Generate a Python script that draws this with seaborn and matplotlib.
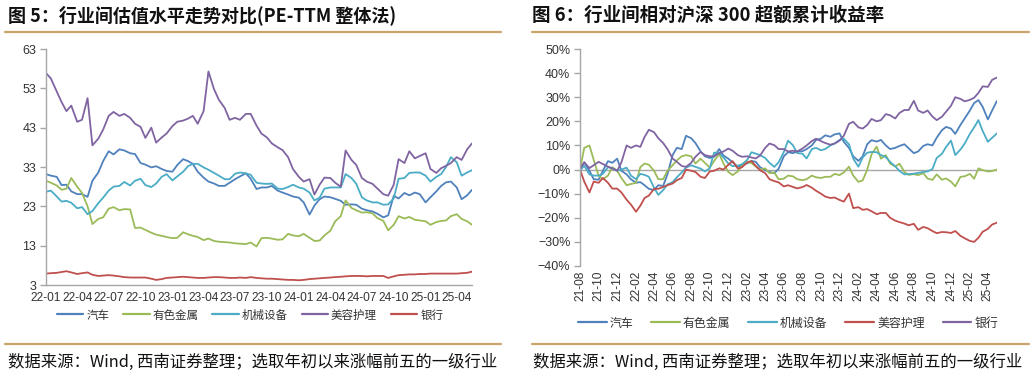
import numpy as np
import pandas as pd
import matplotlib
matplotlib.use("Agg")
import matplotlib.pyplot as plt
from matplotlib.lines import Line2D
import seaborn as sns

sns.set_theme(style="white")
plt.rcParams['font.family'] = ['Noto Sans CJK SC', 'DejaVu Sans']
plt.rcParams['axes.unicode_minus'] = True

industries = ["汽车", "有色金属", "机械设备", "美容护理", "银行"]

# ---------------- left panel: PE-TTM ----------------
pe_dates = pd.date_range("2022-01-01", periods=82, freq="SMS")
pe_auto = [31.2, 30.8, 30.5, 28.4, 28.5, 26.8, 26.1, 26.1, 25.4, 29.5,
           31.6, 34.5, 37.0, 36.2, 37.5, 37.2, 36.5, 36.3, 34.0, 33.6,
           32.9, 33.2, 32.5, 32.0, 31.8, 33.5, 35.0, 34.5, 33.8, 31.8,
           30.3, 29.3, 28.8, 28.2, 28.2, 29.0, 29.9, 30.6, 31.4, 30.0,
           27.4, 27.8, 27.8, 28.2, 27.0, 26.5, 26.0, 25.5, 25.2, 24.0,
           20.9, 23.2, 24.8, 25.5, 25.3, 24.9, 24.4, 23.4, 23.5, 23.4,
           22.4, 22.0, 21.7, 21.1, 20.2, 20.7, 25.7, 25.0, 26.4, 25.8,
           26.5, 26.1, 24.0, 25.3, 26.8, 28.2, 29.1, 29.3, 27.8, 24.8,
           25.8, 27.2]
pe_metal = [29.5, 29.0, 28.3, 27.2, 27.5, 30.2, 28.0, 26.4, 23.0, 18.5,
            19.8, 20.2, 22.4, 22.8, 22.0, 22.3, 22.2, 17.5, 17.6, 17.0,
            16.3, 15.8, 15.5, 15.2, 14.9, 15.0, 16.4, 15.9, 15.5, 15.2,
            14.4, 14.8, 14.2, 14.0, 13.9, 13.8, 13.6, 13.5, 13.4, 13.8,
            12.8, 14.9, 15.0, 14.8, 14.5, 14.6, 16.0, 15.6, 15.4, 16.0,
            15.0, 14.2, 14.3, 15.6, 16.8, 19.2, 20.5, 24.5, 22.6, 22.0,
            21.4, 21.5, 21.2, 20.0, 19.3, 16.9, 18.3, 20.5, 19.9, 20.3,
            19.6, 19.4, 19.2, 18.3, 19.0, 19.3, 19.4, 20.5, 21.0, 19.8,
            19.2, 18.3]
pe_machine = [26.7, 27.0, 25.5, 24.2, 24.4, 23.9, 22.5, 22.8, 21.0, 21.8,
              23.8, 25.2, 27.0, 28.0, 28.2, 29.2, 28.3, 29.5, 30.0, 28.4,
              27.9, 28.8, 30.5, 31.2, 29.6, 30.6, 31.8, 33.2, 33.8, 33.8,
              32.9, 32.3, 31.5, 30.8, 29.9, 29.9, 31.3, 31.6, 31.4, 31.0,
              29.0, 28.8, 28.7, 28.8, 27.5, 27.4, 27.9, 28.5, 27.8, 27.5,
              26.5, 24.5, 25.2, 27.5, 27.8, 27.8, 27.8, 31.2, 30.2, 28.7,
              25.3, 24.5, 24.0, 24.0, 23.4, 23.5, 25.0, 30.0, 30.2, 31.5,
              31.6, 31.6, 30.8, 29.3, 30.5, 31.2, 33.0, 35.5, 34.2, 30.8,
              31.6, 32.2]
pe_beauty = [56.9, 55.5, 52.2, 49.5, 47.2, 48.6, 44.5, 45.0, 50.5, 38.5,
             40.2, 42.5, 46.0, 47.0, 46.0, 46.5, 45.5, 44.0, 43.2, 40.4,
             43.0, 39.2, 40.5, 41.5, 43.4, 44.5, 44.8, 45.3, 46.0, 44.0,
             47.2, 57.3, 52.8, 50.1, 48.0, 45.0, 45.5, 45.0, 46.5, 46.5,
             43.5, 41.5, 40.5, 39.0, 38.0, 37.3, 35.5, 32.5, 30.5, 29.3,
             29.9, 26.0, 28.5, 30.3, 30.2, 29.0, 28.0, 37.2, 34.8, 33.5,
             30.2, 29.3, 28.7, 27.5, 26.1, 25.7, 28.5, 35.0, 34.0, 37.0,
             35.2, 35.8, 36.5, 32.5, 31.5, 32.7, 33.3, 34.0, 35.5, 34.8,
             37.5, 39.0]
pe_bank = [5.9, 6.0, 6.1, 6.3, 6.5, 6.2, 5.8, 6.0, 6.2, 5.6,
           5.3, 5.4, 5.5, 5.4, 5.2, 5.0, 4.9, 4.9, 4.9, 4.9,
           4.6, 4.3, 4.5, 4.8, 4.9, 5.0, 5.1, 5.0, 4.9, 4.8,
           4.8, 4.9, 5.0, 5.0, 4.9, 4.8, 4.8, 4.9, 4.8, 5.0,
           4.8, 4.7, 4.6, 4.6, 4.5, 4.4, 4.3, 4.3, 4.2, 4.3,
           4.5, 4.6, 4.7, 4.8, 4.9, 5.0, 5.1, 5.2, 5.3, 5.3,
           5.3, 5.2, 5.3, 5.3, 5.3, 4.8, 5.2, 5.5, 5.6, 5.7,
           5.7, 5.8, 5.8, 5.9, 5.9, 5.9, 5.9, 5.9, 5.9, 6.0,
           6.1, 6.4]
pe_yticks = [3, 13, 23, 33, 43, 53, 63]
pe_xticks = ["2022-01", "2022-04", "2022-07", "2022-10", "2023-01", "2023-04", "2023-07",
             "2023-10", "2024-01", "2024-04", "2024-07", "2024-10", "2025-01", "2025-04"]

# ---------------- right panel: excess return vs CSI 300 ----------------
ex_dates = pd.date_range("2021-08-01", periods=91, freq="SMS")
ex_auto = [-0.3, 3.0, -0.5, -4.0, -4.2, -0.5, 3.5, 2.8, 4.5, -0.5,
           -2.0, -4.0, -5.5, -5.2, -6.5, -8.0, -8.5, -6.5, -6.8, -2.0,
           6.0, 9.0, 8.5, 14.0, 13.0, 11.0, 7.5, 5.5, 4.8, 5.3,
           8.5, 5.8, 4.5, 3.0, 1.2, 1.8, 2.6, 3.6, 3.2, 1.0,
           -0.3, -1.0, -1.5, 0.3, 5.5, 7.2, 6.8, 7.5, 7.6, 8.5,
           10.0, 12.3, 12.8, 14.2, 13.6, 14.6, 15.0, 11.5, 9.0, 5.5,
           3.6, 5.5, 10.5, 12.2, 11.6, 12.3, 10.0, 8.5, 9.0, 9.8,
           10.5, 8.8, 6.8, 7.5, 9.8, 10.5, 10.0, 13.2, 16.3, 17.7,
           17.0, 14.8, 18.5, 21.2, 24.5, 27.6, 28.8, 26.0, 20.8, 24.5,
           28.5]
ex_metal = [0.0, 9.0, 10.0, 4.0, -2.5, -4.0, -2.5, 1.0, -0.5, -3.5,
            -6.5, -6.0, -5.5, 1.0, 2.5, 2.0, -0.5, -4.0, -4.0, -0.5,
            1.8, 3.8, 5.5, 6.0, 5.5, 2.5, 4.5, 2.8, 0.8, 3.5,
            6.5, 2.5, -1.0, -2.3, -0.8, 1.5, 3.0, 2.7, 1.3, 0.0,
            0.5, -1.5, -1.2, -4.0, -3.8, -2.5, -2.8, -4.0, -4.4, -4.0,
            -2.5, -3.2, -3.5, -3.0, -3.0, -1.8, -2.3, -1.2, 1.2, -2.5,
            -5.1, -4.5, 0.0, 6.3, 9.5, 4.5, 6.0, 2.5, 1.3, 2.4,
            -1.0, -2.2, -1.9, -2.3, -1.5, -3.7, -4.3, -2.0, -4.2, -3.7,
            -5.0, -7.0, -3.0, -2.8, -1.8, -3.8, 0.5, -0.2, -0.8, -0.6,
            0.0]
ex_machine = [-0.3, 1.5, -2.0, -2.5, -2.5, -1.8, 1.0, 0.5, -0.5, 0.0,
              0.8, -2.5, -4.0, -1.8, -2.2, -3.0, -7.5, -10.5, -8.5, -6.2,
              -5.2, -3.2, -1.2, 0.8, 1.8, 1.1, 0.4, -0.8, 0.5, 7.0,
              7.0, 5.0, 2.5, 1.4, 1.6, 2.2, 4.0, 7.2, 6.6, 6.0,
              4.8, 2.8, 1.1, 3.0, 7.2, 12.0, 10.1, 6.8, 6.6, 4.6,
              8.5, 9.0, 8.0, 8.5, 10.0, 10.8, 12.3, 12.8, 10.5, 4.5,
              1.2, 5.0, 7.0, 7.3, 7.2, 6.0, 5.2, 3.2, 1.3, -0.6,
              -2.0, -1.9, -1.7, -1.4, -1.0, -0.8, 0.2, 4.8, 6.5, 9.4,
              12.0, 6.0, 8.3, 10.8, 14.8, 17.5, 20.5, 16.0, 11.5, 13.2,
              15.0]
ex_beauty = [0.0, -5.0, -9.5, -5.0, -5.5, -3.5, -5.5, -7.9, -7.9, -9.5,
             -12.5, -14.5, -17.5, -15.0, -11.8, -10.8, -8.0, -8.0, -7.2, -6.5,
             -5.8, -4.4, -3.5, 0.0, -0.5, -1.0, -3.0, -3.5, -0.8, -0.5,
             0.5, 0.0, 2.0, 3.5, 0.4, 1.0, 3.0, 3.5, 1.5, -0.3,
             -1.5, -4.0, -4.8, -5.3, -7.0, -6.5, -7.2, -7.8, -7.3, -6.4,
             -7.5, -8.8, -10.0, -11.2, -11.8, -11.6, -12.6, -13.3, -10.0, -16.0,
             -15.6, -16.7, -16.4, -17.3, -18.5, -18.0, -18.0, -20.0, -21.2, -21.8,
             -22.4, -23.1, -22.5, -25.0, -23.8, -24.3, -25.5, -26.4, -25.9, -26.0,
             -26.3, -25.5, -27.5, -28.5, -29.6, -30.0, -28.3, -25.8, -24.6, -22.8,
             -22.0]
ex_bank = [0.4, 3.0, 0.6, 1.8, 3.2, 2.3, 1.2, 0.5, -0.5, 3.0,
           10.0, 9.0, 10.0, 9.4, 13.5, 16.5, 15.5, 13.0, 11.0, 8.5,
           4.6, 3.2, 1.5, 1.1, 2.8, 5.3, 7.3, 6.0, 5.5, 5.5,
           6.8, 7.5, 8.7, 7.8, 6.0, 5.3, 5.5, 5.0, 4.6, 5.8,
           9.0, 10.8, 10.1, 8.5, 8.5, 7.5, 7.8, 7.5, 8.7, 10.0,
           11.8, 12.8, 11.8, 11.0, 10.3, 10.8, 12.0, 14.0, 19.0, 19.8,
           17.5, 17.0, 18.5, 21.0, 20.0, 20.5, 23.0, 22.5, 21.2, 23.5,
           24.7, 24.7, 28.5, 24.5, 23.5, 24.5, 22.0, 20.5, 21.9, 24.0,
           26.5, 30.0, 29.3, 28.3, 28.9, 29.8, 31.8, 34.5, 34.3, 37.2,
           38.2]
ex_yticks = [-40, -30, -20, -10, 0, 10, 20, 30, 40, 50]
ex_xticks = pd.date_range("2021-08-01", "2025-04-01", freq="2MS")

# ---------------- styling ----------------
BLUE, GREEN, CYAN, PURPLE, RED = "#4F81BD", "#9BBB59", "#4BACC6", "#8064A2", "#C0504D"
pal_left = dict(zip(industries, [BLUE, GREEN, CYAN, PURPLE, RED]))
pal_right = dict(zip(industries, [BLUE, GREEN, CYAN, RED, PURPLE]))
AXC = "#A6A6A6"
TXT = "#333333"
GOLD = "#C9A46A"
NUMFONT = ["Liberation Sans", "DejaVu Sans"]
LW = 1.3

W, H = 1034, 378
fig = plt.figure(figsize=(W / 100, H / 100), dpi=100)
fx = lambda px: px / W
fy = lambda py: 1 - py / H

ax1 = fig.add_axes([fx(46), fy(285), fx(472) - fx(46), fy(49) - fy(285)])
ax2 = fig.add_axes([fx(580), fy(266), fx(997) - fx(580), fy(49) - fy(266)])

df1 = pd.DataFrame({
    "date": np.tile(pe_dates, 5),
    "industry": np.repeat(industries, len(pe_dates)),
    "value": np.concatenate([pe_auto, pe_metal, pe_machine, pe_beauty, pe_bank]),
})
df2 = pd.DataFrame({
    "date": np.tile(ex_dates, 5),
    "industry": np.repeat(industries, len(ex_dates)),
    "value": np.concatenate([ex_auto, ex_metal, ex_machine, ex_beauty, ex_bank]),
})

sns.lineplot(data=df1, x="date", y="value", hue="industry", hue_order=industries,
             palette=pal_left, ax=ax1, linewidth=LW, legend=False, estimator=None)
sns.lineplot(data=df2, x="date", y="value", hue="industry", hue_order=industries,
             palette=pal_right, ax=ax2, linewidth=LW, legend=False, estimator=None)

# left axes
ax1.set_xlim(pe_dates[0], pe_dates[-1])
ax1.set_ylim(3, 63)
ax1.set_yticks(pe_yticks)
ax1.set_yticklabels([str(v) for v in pe_yticks], fontfamily=NUMFONT, fontsize=9, color=TXT)
xt = pd.to_datetime(pe_xticks)
ax1.set_xticks(xt)
ax1.set_xticklabels([d.strftime("%y-%m") for d in xt], fontfamily=NUMFONT, fontsize=8.6, color=TXT)
for s in ["top", "right"]:
    ax1.spines[s].set_visible(False)
for s in ["left", "bottom"]:
    ax1.spines[s].set_color(AXC)
    ax1.spines[s].set_linewidth(1.0)
ax1.tick_params(axis="y", direction="out", length=4, width=1, color=AXC, pad=3, left=True)
ax1.tick_params(axis="x", length=0, pad=5)
ax1.set_xlabel("")
ax1.set_ylabel("")
ax1.grid(False)

# right axes
ax2.set_xlim(ex_dates[0], ex_dates[-1])
ax2.set_ylim(-40, 50)
ax2.set_yticks(ex_yticks)
ax2.set_yticklabels([f"{v}%".replace("-", "\u2212") for v in ex_yticks],
                    fontfamily=NUMFONT, fontsize=9, color=TXT)
ax2.set_xticks(ex_xticks)
ax2.set_xticklabels([d.strftime("%y-%m") for d in ex_xticks], rotation=90,
                    fontfamily=NUMFONT, fontsize=8.6, color=TXT)
for s in ["top", "right", "bottom"]:
    ax2.spines[s].set_visible(False)
ax2.spines["left"].set_color(AXC)
ax2.spines["left"].set_linewidth(1.0)
ax2.axhline(0, color=AXC, linewidth=1.0, zorder=1)
ax2.tick_params(axis="y", direction="out", length=4, width=1, color=AXC, pad=3, left=True)
ax2.tick_params(axis="x", length=0, pad=3)
ax2.set_xlabel("")
ax2.set_ylabel("")
ax2.grid(False)

# legends
h1 = [Line2D([], [], color=pal_left[k], linewidth=1.6) for k in industries]
fig.legend(h1, industries, loc="center", bbox_to_anchor=(fx(250), fy(315)), ncol=5,
           frameon=False, fontsize=8.3, handlelength=2.3, handletextpad=0.25,
           columnspacing=1.2, labelcolor=TXT)
h2 = [Line2D([], [], color=pal_right[k], linewidth=1.6) for k in industries]
fig.legend(h2, industries, loc="center", bbox_to_anchor=(fx(788), fy(323)), ncol=5,
           frameon=False, fontsize=8.6, handlelength=2.4, handletextpad=0.25,
           columnspacing=1.5, labelcolor=TXT)

# titles
fig.text(fx(8), fy(15), "图 5：行业间估值水平走势对比(PE-TTM 整体法)", fontsize=13,
         fontweight="bold", ha="left", va="center", color="#111111")
fig.text(fx(532), fy(15), "图 6：行业间相对沪深 300 超额累计收益率", fontsize=13.3,
         fontweight="bold", ha="left", va="center", color="#111111")

# gold rules
for (x0, x1) in [(5, 501), (532, 1029)]:
    for y in (32, 344):
        fig.add_artist(Line2D([fx(x0), fx(x1)], [fy(y), fy(y)], color=GOLD, linewidth=1.6))

# source notes
src = "数据来源：Wind, 西南证券整理；选取年初以来涨幅前五的一级行业"
fig.text(fx(8), fy(362), src, fontsize=11.8, style="italic", ha="left", va="center", color="#111111")
fig.text(fx(533), fy(362), src, fontsize=11.8, style="italic", ha="left", va="center", color="#111111")

fig.savefig("out.png", dpi=100)
